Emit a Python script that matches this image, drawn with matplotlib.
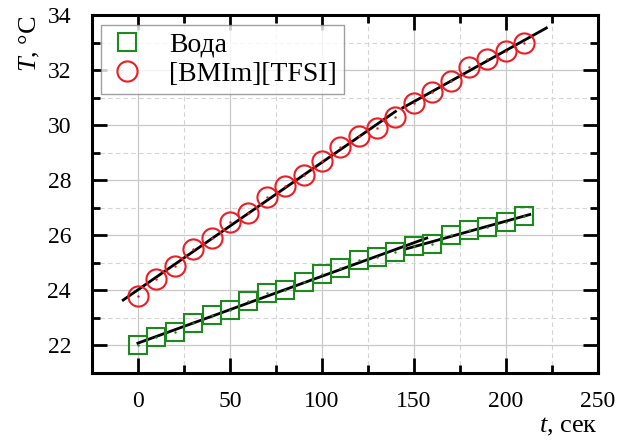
import numpy as np
import matplotlib
matplotlib.use("Agg")
import matplotlib.pyplot as plt
from matplotlib.ticker import MultipleLocator

plt.rcParams["font.family"] = ["Liberation Serif", "DejaVu Serif"]
plt.rcParams["mathtext.fontset"] = "custom"
plt.rcParams["mathtext.it"] = "Liberation Serif:italic"
plt.rcParams["mathtext.rm"] = "Liberation Serif"

# data
t = np.arange(0, 211, 10)
water = [22.0, 22.3, 22.5, 22.8, 23.1, 23.3, 23.6, 23.9, 24.0, 24.3, 24.6,
         24.8, 25.1, 25.2, 25.4, 25.6, 25.7, 26.0, 26.2, 26.3, 26.5, 26.7]
bmim = [23.8, 24.4, 24.9, 25.5, 25.9, 26.5, 26.8, 27.4, 27.8, 28.2, 28.7,
        29.2, 29.6, 29.9, 30.3, 30.8, 31.2, 31.6, 32.1, 32.4, 32.7, 33.0]
labels = ["Вода", "[BMIm][TFSI]"]

fig = plt.figure(figsize=(6.34, 4.44), dpi=100)
ax = fig.add_axes([0.145, 0.16, 0.798, 0.806])

green = "#1e8a1e"
red = "#ee1c24"

# two linear fits per series (early and late part), as in the original
fits = [
    (water, (0, 150), (0, 157)),
    (water, (150, 210), (146, 213)),
    (bmim, (0, 140), (-8, 140)),
    (bmim, (150, 210), (144, 222)),
]
for y, (a, b), (x0, x1) in fits:
    m = (t >= a) & (t <= b)
    k, c = np.polyfit(t[m], np.array(y)[m], 1)
    xx = np.array([x0, x1])
    ax.plot(xx, k * xx + c, color="black", lw=2.0, zorder=3)

ax.plot(t, water, "s", ms=12.5, mfc="none", mec=green, mew=1.5, label=labels[0], zorder=4)
ax.plot(t, bmim, "o", ms=14.5, mfc="none", mec=red, mew=1.5, label=labels[1], zorder=4)
ax.plot(t, water, ".", ms=1.5, color=green, zorder=5)
ax.plot(t, bmim, ".", ms=1.5, color=red, zorder=5)

ax.set_xlim(-25, 250)
ax.set_ylim(21, 34)
ax.xaxis.set_minor_locator(MultipleLocator(25))
ax.yaxis.set_minor_locator(MultipleLocator(1))
ax.set_xticks([0, 50, 100, 150, 200, 250])
ax.set_yticks([22, 24, 26, 28, 30, 32, 34])

ax.grid(which="major", color="#c8c8c8", lw=0.9, ls="-")
ax.grid(which="minor", color="#d4d4d4", lw=0.8, ls=(0, (4, 3)))
ax.set_axisbelow(True)

ax.tick_params(which="both", direction="in", top=True, right=True, labelsize=17, width=2)
ax.tick_params(which="major", length=11, pad=13)
ax.tick_params(which="minor", length=6)
ax.tick_params(axis="y", which="major", pad=15)
for s in ax.spines.values():
    s.set_linewidth(2.2)

ax.text(-0.122, 1.0, r"$T$, °C", transform=ax.transAxes, rotation=90,
        ha="center", va="top", fontsize=19)
ax.text(1.0, -0.15, r"$t$, сек", transform=ax.transAxes,
        ha="right", va="center", fontsize=19)

leg = ax.legend(loc="upper left", bbox_to_anchor=(0.018, 0.972), fontsize=20,
                frameon=True, fancybox=False, edgecolor="#888888",
                handletextpad=0.8, borderpad=0.25, labelspacing=0.15,
                handlelength=1.4, borderaxespad=0)
leg.get_frame().set_linewidth(1.0)

fig.savefig("out.png", dpi=100)
